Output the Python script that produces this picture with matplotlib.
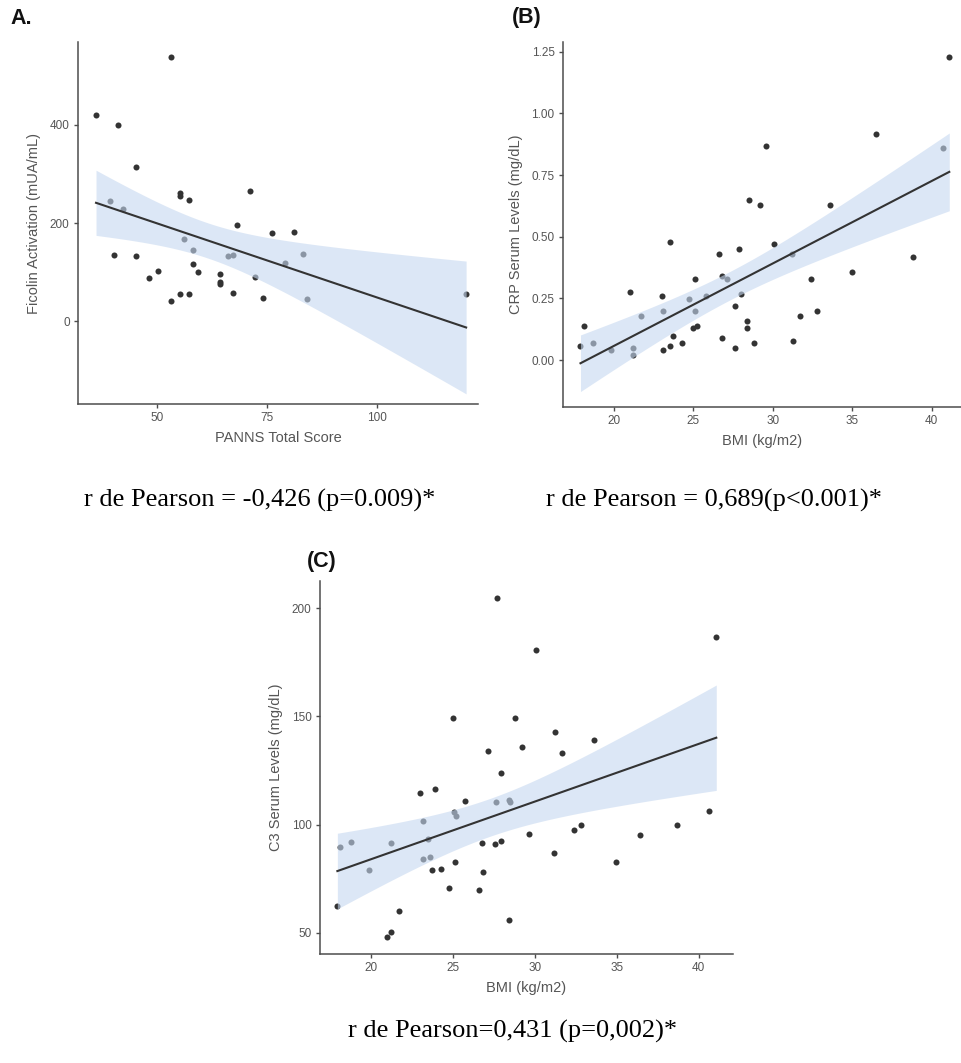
import matplotlib

matplotlib.use("Agg")
import matplotlib.pyplot as plt
import numpy as np

W, H = 962, 1063

# ---- data ----
panns = [36.1, 41.1, 53.2, 45.2, 39.2, 42.3, 40.2, 45.2, 48.2, 50.2, 53.2, 55.2,
         55.2, 57.2, 55.2, 57.2, 56.1, 58.2, 58.2, 59.2, 64.2, 64.2, 64.2, 66.2,
         67.2, 68.2, 67.2, 71.2, 72.2, 74.2, 76.2, 79.2, 81.1, 83.2, 84.2, 120.3]
ficolin = [421, 399, 538, 314, 244, 228, 134, 132, 88, 103, 41, 261,
           255, 247, 55, 55, 168, 144, 116, 100, 97, 79, 76, 132,
           135, 196, 57, 265, 90, 48, 180, 118, 182, 137, 46, 56]

bmi_b = [17.9, 18.1, 18.7, 19.8, 21.0, 21.2, 21.2, 21.7, 23.0, 23.1, 23.1, 23.5,
         23.5, 23.7, 24.3, 24.7, 25.1, 25.1, 25.0, 25.2, 25.8, 26.6, 26.8, 27.1,
         26.8, 27.6, 27.6, 27.9, 28.0, 28.5, 28.4, 28.4, 28.8, 29.2, 29.6, 30.1,
         31.2, 31.3, 31.7, 32.4, 32.8, 33.6, 35.0, 36.5, 38.8, 40.7, 41.1]
crp = [0.059, 0.139, 0.069, 0.042, 0.278, 0.049, 0.019, 0.18, 0.26, 0.199, 0.039, 0.478,
       0.059, 0.099, 0.069, 0.249, 0.199, 0.328, 0.13, 0.139, 0.26, 0.428, 0.339, 0.328,
       0.089, 0.219, 0.049, 0.449, 0.269, 0.649, 0.159, 0.13, 0.069, 0.628, 0.868, 0.469,
       0.428, 0.078, 0.18, 0.328, 0.199, 0.628, 0.358, 0.918, 0.419, 0.858, 1.228]

bmi_c = [17.96, 18.15, 18.8, 19.86, 20.96, 21.26, 21.26, 21.7, 23.0, 23.2, 23.2, 23.5,
         23.6, 23.75, 23.9, 24.3, 24.77, 25.03, 25.07, 25.17, 25.13, 25.74, 26.62, 26.8,
         26.82, 27.15, 27.62, 27.58, 27.72, 27.94, 27.92, 28.41, 28.47, 28.43, 28.78, 29.2,
         29.65, 30.1, 31.16, 31.26, 31.65, 32.4, 32.8, 33.6, 34.95, 36.4, 38.7, 40.65, 41.08]
c3 = [62.5, 89.8, 92.2, 79.1, 48.0, 50.3, 91.7, 60.2, 114.8, 101.7, 84.0, 93.4,
      85.2, 78.9, 116.6, 79.7, 70.9, 149.1, 105.8, 104.2, 82.6, 111.1, 69.8, 91.4,
      78.2, 134.2, 110.6, 91.1, 204.6, 124.0, 92.6, 111.5, 110.3, 56.0, 149.1, 135.7,
      95.7, 180.8, 86.8, 142.8, 133.1, 97.7, 99.7, 139.1, 82.6, 95.1, 100.0, 106.3, 186.8]

PT_COLOR = "#333333"
BAND_COLOR = "#c6d8f0"
AX_COLOR = "#4d4d4d"
TXT_COLOR = "#555555"

plt.rcParams["font.family"] = ["Liberation Sans", "DejaVu Sans"]


def t_crit(df):
    # Cornish-Fisher approximation of the 97.5% t quantile
    z = 1.959964
    return z + (z**3 + z) / (4 * df) + (5 * z**5 + 16 * z**3 + 3 * z) / (96 * df**2)


def lm_panel(ax, x, y):
    x = np.asarray(x, float)
    y = np.asarray(y, float)
    n = len(x)
    b, a = np.polyfit(x, y, 1)
    resid = y - (a + b * x)
    s = np.sqrt(np.sum(resid**2) / (n - 2))
    xs = np.linspace(x.min(), x.max(), 80)
    se = s * np.sqrt(1 / n + (xs - x.mean())**2 / np.sum((x - x.mean())**2))
    fit = a + b * xs
    t = t_crit(n - 2)
    ax.scatter(x, y, s=19, color=PT_COLOR, linewidths=0, zorder=1)
    ax.fill_between(xs, fit - t * se, fit + t * se, color=BAND_COLOR, alpha=0.6,
                    lw=0, zorder=2)
    ax.plot(xs, fit, color="#333333", lw=1.5, zorder=3)


def style(ax, xlabel, ylabel):
    for side in ("top", "right"):
        ax.spines[side].set_visible(False)
    for side in ("left", "bottom"):
        ax.spines[side].set_color(AX_COLOR)
        ax.spines[side].set_linewidth(1.1)
    ax.tick_params(length=3, width=1.0, color=AX_COLOR, labelsize=8.5,
                   labelcolor=TXT_COLOR, pad=3)
    ax.set_xlabel(xlabel, fontsize=10.5, color=TXT_COLOR, labelpad=5)
    ax.set_ylabel(ylabel, fontsize=10.5, color=TXT_COLOR, labelpad=6)


def add_axes(fig, left, top, right, bottom):
    return fig.add_axes([left / W, 1 - bottom / H, (right - left) / W, (bottom - top) / H])


fig = plt.figure(figsize=(W / 100, H / 100), dpi=100)
fig.patch.set_facecolor("white")

# A
axA = add_axes(fig, 78, 42, 478, 404)
lm_panel(axA, panns, ficolin)
axA.set_xlim(32, 123)
axA.set_ylim(-169, 569)
axA.set_xticks([50, 75, 100])
axA.set_yticks([0, 200, 400])
style(axA, "PANNS Total Score", "Ficolin Activation (mUA/mL)")

# B
axB = add_axes(fig, 563, 42, 962, 407)
lm_panel(axB, bmi_b, crp)
axB.set_xlim(16.8, 41.9)
axB.set_ylim(-0.19, 1.289)
axB.set_xticks([20, 25, 30, 35, 40])
axB.set_yticks([0.0, 0.25, 0.5, 0.75, 1.0, 1.25])
axB.set_yticklabels(["0.00", "0.25", "0.50", "0.75", "1.00", "1.25"])
style(axB, "BMI (kg/m2)", "CRP Serum Levels (mg/dL)")

# C
axC = add_axes(fig, 320, 581, 733, 954)
lm_panel(axC, bmi_c, c3)
axC.set_xlim(16.9, 42.1)
axC.set_ylim(40.3, 212.5)
axC.set_xticks([20, 25, 30, 35, 40])
axC.set_yticks([50, 100, 150, 200])
style(axC, "BMI (kg/m2)", "C3 Serum Levels (mg/dL)")

# panel letters
letter = dict(fontsize=15.5, fontweight="bold", ha="left", va="center", color="#111111")
fig.text(10 / W, 1 - 18 / H, "A.", **letter)
fig.text(512 / W, 1 - 17 / H, "(B)", **letter)
fig.text(307 / W, 1 - 561 / H, "(C)", **letter)

# correlation captions
serif = dict(family="Liberation Serif", fontsize=19, color="black", va="center", ha="center")
fig.text(260 / W, 1 - 500 / H, "r de Pearson = -0,426 (p=0.009)*", **serif)
fig.text(714 / W, 1 - 500 / H, "r de Pearson = 0,689(p<0.001)*", **serif)
fig.text(513 / W, 1 - 1031 / H, "r de Pearson=0,431 (p=0,002)*", **serif)

fig.savefig("out.png", dpi=100)
